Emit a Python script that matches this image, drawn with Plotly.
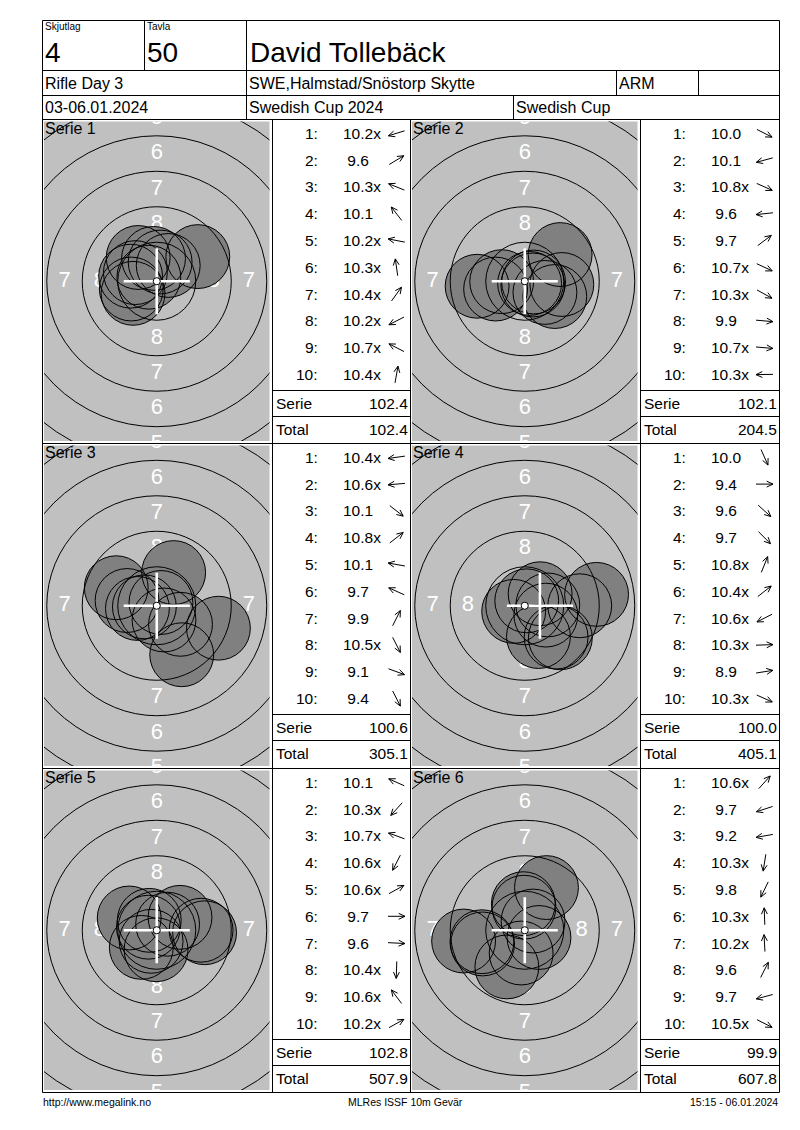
import math
import plotly.graph_objects as go

W, H = 800, 1130
FONT = "Liberation Sans, Arial, Helvetica, sans-serif"

# ---------------- data ----------------
relay_label, relay_value = "Skjutlag", "4"
lane_label, lane_value = "Tavla", "50"
shooter_name = "David Tollebäck"
event_name = "Rifle Day 3"
club_name = "SWE,Halmstad/Snöstorp Skytte"
class_name = "ARM"
date_range = "03-06.01.2024"
competition_name = "Swedish Cup 2024"
cup_name = "Swedish Cup"
footer_left = "http://www.megalink.no"
footer_center = "MLRes ISSF 10m Gevär"
footer_right = "15:15 - 06.01.2024"

series_labels = ["Serie 1", "Serie 2", "Serie 3", "Serie 4", "Serie 5", "Serie 6"]

serie1_scores = ["10.2x", "9.6", "10.3x", "10.1", "10.2x", "10.3x", "10.4x", "10.2x", "10.7x", "10.4x"]
serie2_scores = ["10.0", "10.1", "10.8x", "9.6", "9.7", "10.7x", "10.3x", "9.9", "10.7x", "10.3x"]
serie3_scores = ["10.4x", "10.6x", "10.1", "10.8x", "10.1", "9.7", "9.9", "10.5x", "9.1", "9.4"]
serie4_scores = ["10.0", "9.4", "9.6", "9.7", "10.8x", "10.4x", "10.6x", "10.3x", "8.9", "10.3x"]
serie5_scores = ["10.1", "10.3x", "10.7x", "10.6x", "10.6x", "9.7", "9.6", "10.4x", "10.6x", "10.2x"]
serie6_scores = ["10.6x", "9.7", "9.2", "10.3x", "9.8", "10.3x", "10.2x", "9.6", "9.7", "10.5x"]

# direction of each shot from the centre, degrees (0 = right, 90 = up)
serie1_dirs = [197, 31, 158, 128, 169, 98, 54, 207, 153, 80]
serie2_dirs = [-27, 195, -24, 186, 37, -25, -29, -5, -5, 181]
serie3_dirs = [188, 185, -38, 38, 170, 156, 63, -63, -20, -63]
serie4_dirs = [-66, 0, -42, -45, 68, 38, 207, 2, 9, -24]
serie5_dirs = [156, 228, 160, 243, 29, 0, -3, 268, 127, 29]
serie6_dirs = [48, 198, 190, 261, 244, 92, 93, 63, 195, -27]

# white cross position (mm from target centre)
cross_x_mm = [0, 0, 0, 1.07, 0, 0]
cross_y_mm = [0, 0, 0, 0, 0, 0]

# ISSF 10m air rifle target (mm)
ring_radii_mm = [0.25, 2.75, 5.25, 7.75, 10.25, 12.75, 15.25, 17.75, 20.25, 22.75]
ring_label_values = [8, 7, 6, 5]
pellet_radius_mm = 2.25

all_scores = [serie1_scores, serie2_scores, serie3_scores,
              serie4_scores, serie5_scores, serie6_scores]
all_dirs = [serie1_dirs, serie2_dirs, serie3_dirs,
            serie4_dirs, serie5_dirs, serie6_dirs]

# ---------------- geometry (pixels) ----------------
SCALE = 14.19  # px per mm
FR_L, FR_R, FR_T, FR_B = 42.5, 779.5, 20.5, 1092.5
HEAD_Y = [20.5, 70.5, 95.5, 119.5]
ROW_TOP = [119.5, 443.5, 768.5]
ROW_BOT = [443.5, 768.5, 1092.5]
COL_TARGET = [(42.5, 272.5), (410.5, 640.5)]
COL_LIST = [(272.5, 410.5), (640.5, 779.5)]
ROW_STEP = 26.8


def px(x):
    return x / W


def py(y):
    return 1 - y / H


shapes = []
annotations = []


def hline(x0, x1, y):
    shapes.append(dict(type="line", xref="paper", yref="paper", x0=px(x0), x1=px(x1),
                       y0=py(y), y1=py(y), line=dict(color="black", width=1), layer="above"))


def vline(x, y0, y1):
    shapes.append(dict(type="line", xref="paper", yref="paper", x0=px(x), x1=px(x),
                       y0=py(y0), y1=py(y1), line=dict(color="black", width=1), layer="above"))


def label(x, y, s, size, anchor="left", color="black", family=FONT):
    annotations.append(dict(xref="paper", yref="paper", x=px(x), y=py(y), text=s,
                            showarrow=False, xanchor=anchor, yanchor="middle",
                            borderpad=0, font=dict(size=size, color=color, family=family)))


fig = go.Figure()

# ---------------- header ----------------
for y in HEAD_Y:
    hline(FR_L, FR_R, y)
hline(FR_L, FR_R, FR_B)
vline(FR_L, FR_T, FR_B)
vline(FR_R, FR_T, FR_B)
vline(144.5, HEAD_Y[0], HEAD_Y[1])
vline(246.5, HEAD_Y[0], HEAD_Y[3])
vline(616.5, HEAD_Y[1], HEAD_Y[2])
vline(698.5, HEAD_Y[1], HEAD_Y[2])
vline(513.5, HEAD_Y[2], HEAD_Y[3])

label(44, 27, relay_label, 10)
label(44, 52, relay_value, 28)
label(146, 27, lane_label, 10)
label(146, 52, lane_value, 28)
label(249, 52, shooter_name, 28)
label(44, 83.5, event_name, 16)
label(248, 83.5, club_name, 16)
label(618, 83.5, class_name, 16)
label(44, 108, date_range, 16)
label(248, 108, competition_name, 16)
label(515, 108, cup_name, 16)

# panel grid lines
for y in ROW_TOP[1:]:
    hline(FR_L, FR_R, y)
for x in (272.5, 410.5, 640.5):
    vline(x, ROW_TOP[0], FR_B)

# footer
label(42, 1102, footer_left, 10.5)
label(406, 1102, footer_center, 10.5, anchor="center")
label(779, 1102, footer_right, 10.5, anchor="right")

running_total = 0.0
for k in range(6):
    r, c = k // 2, k % 2
    tx0, tx1 = COL_TARGET[c]
    lx0, lx1 = COL_LIST[c]
    top, bot = ROW_TOP[r], ROW_BOT[r]
    gx0, gx1 = tx0 + 1.5, tx1 - 3
    gy0, gy1 = top + 2, bot - 2.5
    hw = (gx1 - gx0) / 2 / SCALE
    hh = (gy1 - gy0) / 2 / SCALE
    xa = "x" if k == 0 else f"x{k + 1}"
    ya = "y" if k == 0 else f"y{k + 1}"
    fig.layout[("xaxis" if k == 0 else f"xaxis{k + 1}")] = dict(
        domain=[gx0 / W, gx1 / W], range=[-hw, hw], visible=False,
        fixedrange=True, anchor=ya)
    fig.layout[("yaxis" if k == 0 else f"yaxis{k + 1}")] = dict(
        domain=[1 - gy1 / H, 1 - gy0 / H], range=[-hh, hh], visible=False,
        fixedrange=True, anchor=xa)

    # ring numbers (only those whose position falls in or at the visible area)
    lx, ly, lt = [], [], []
    for v in ring_label_values:
        rr = (ring_radii_mm[10 - v] + ring_radii_mm[9 - v]) / 2
        for (dx, dy) in ((0, 1), (0, -1), (1, 0), (-1, 0)):
            if dx and rr > hw - 0.3:
                continue
            if dy and rr > hh + 0.6:
                continue
            lx.append(dx * rr)
            ly.append(dy * rr)
            lt.append(str(v))
    fig.add_trace(go.Scatter(x=lx, y=ly, text=lt, mode="text", xaxis=xa, yaxis=ya,
                             textfont=dict(color="white", size=22, family=FONT),
                             hoverinfo="skip", showlegend=False, cliponaxis=True))

    scores = all_scores[k]
    dirs = all_dirs[k]
    vals = [float(s.rstrip("x")) for s in scores]
    sx, sy = [], []
    for v, a in zip(vals, dirs):
        d = (10.95 - v) * 2.5
        sx.append(d * math.cos(math.radians(a)))
        sy.append(d * math.sin(math.radians(a)))

    # shot fills
    for x, y in zip(sx, sy):
        shapes.append(dict(type="circle", xref=xa, yref=ya,
                           x0=x - pellet_radius_mm, x1=x + pellet_radius_mm,
                           y0=y - pellet_radius_mm, y1=y + pellet_radius_mm,
                           fillcolor="#808080", line=dict(width=0), layer="above"))
    # rings
    for rr in ring_radii_mm[1:]:
        shapes.append(dict(type="circle", xref=xa, yref=ya, x0=-rr, x1=rr, y0=-rr, y1=rr,
                           fillcolor="rgba(0,0,0,0)", line=dict(color="black", width=1),
                           layer="above"))
    # shot outlines
    for x, y in zip(sx, sy):
        shapes.append(dict(type="circle", xref=xa, yref=ya,
                           x0=x - pellet_radius_mm, x1=x + pellet_radius_mm,
                           y0=y - pellet_radius_mm, y1=y + pellet_radius_mm,
                           fillcolor="rgba(0,0,0,0)", line=dict(color="black", width=1),
                           layer="above"))
    # cross
    cxm, cym = cross_x_mm[k], cross_y_mm[k]
    arm = 2.33
    shapes.append(dict(type="line", xref=xa, yref=ya, x0=cxm - arm, x1=cxm + arm, y0=cym, y1=cym,
                       line=dict(color="white", width=2.6), layer="above"))
    shapes.append(dict(type="line", xref=xa, yref=ya, x0=cxm, x1=cxm, y0=cym - arm, y1=cym + arm,
                       line=dict(color="white", width=2.6), layer="above"))
    # ten dot
    r10 = ring_radii_mm[0]
    shapes.append(dict(type="circle", xref=xa, yref=ya, x0=-r10, x1=r10, y0=-r10, y1=r10,
                       fillcolor="white", line=dict(color="black", width=1), layer="above"))

    # series label
    label(tx0 + 1.5, top + 8.5, series_labels[k], 16)

    # shot list
    for i, (s, v, a) in enumerate(zip(scores, vals, dirs)):
        yy = top + 13.8 + ROW_STEP * i
        label(lx0 + 46, yy, f"{i + 1}:", 15.5, anchor="right")
        label(lx0 + 69, yy, ("\u00a0" + s) if v < 10 else s, 15.5)
        # direction arrow
        ca = lx0 + 124
        L = 17
        ux, uy = math.cos(math.radians(a)), -math.sin(math.radians(a))
        hx, hy = ca + ux * L / 2, yy + uy * L / 2
        tx_, ty_ = ca - ux * L / 2, yy - uy * L / 2
        wings = []
        for sgn in (1, -1):
            ang = math.radians(25) * sgn
            bx, by = -ux, -uy
            wx = bx * math.cos(ang) - by * math.sin(ang)
            wy = bx * math.sin(ang) + by * math.cos(ang)
            wings.append((hx + wx * 7, hy + wy * 7))
        path = (f"M{px(tx_)},{py(ty_)} L{px(hx)},{py(hy)} "
                f"M{px(wings[0][0])},{py(wings[0][1])} L{px(hx)},{py(hy)} "
                f"L{px(wings[1][0])},{py(wings[1][1])}")
        shapes.append(dict(type="path", xref="paper", yref="paper", path=path,
                           line=dict(color="black", width=1), layer="above"))

    serie_sum = round(sum(vals), 1)
    running_total = round(running_total + serie_sum, 1)
    hline(lx0, lx1, top + 271)
    hline(lx0, lx1, top + 297)
    label(lx0 + 2, top + 284, "Serie", 15.5)
    label(lx1 - 1.5, top + 284, f"{serie_sum:.1f}", 15.5, anchor="right")
    label(lx0 + 2, top + 310, "Total", 15.5)
    label(lx1 - 1.5, top + 310, f"{running_total:.1f}", 15.5, anchor="right")

fig.update_layout(
    width=W, height=H, margin=dict(l=0, r=0, t=0, b=0, pad=0),
    paper_bgcolor="white", plot_bgcolor="#c0c0c0",
    showlegend=False, shapes=shapes, annotations=annotations,
    font=dict(family=FONT, color="black"),
)

fig.write_html("out.html", config={"displayModeBar": False, "staticPlot": True},
               post_script="document.body.style.margin='0';document.body.style.overflow='hidden';")
